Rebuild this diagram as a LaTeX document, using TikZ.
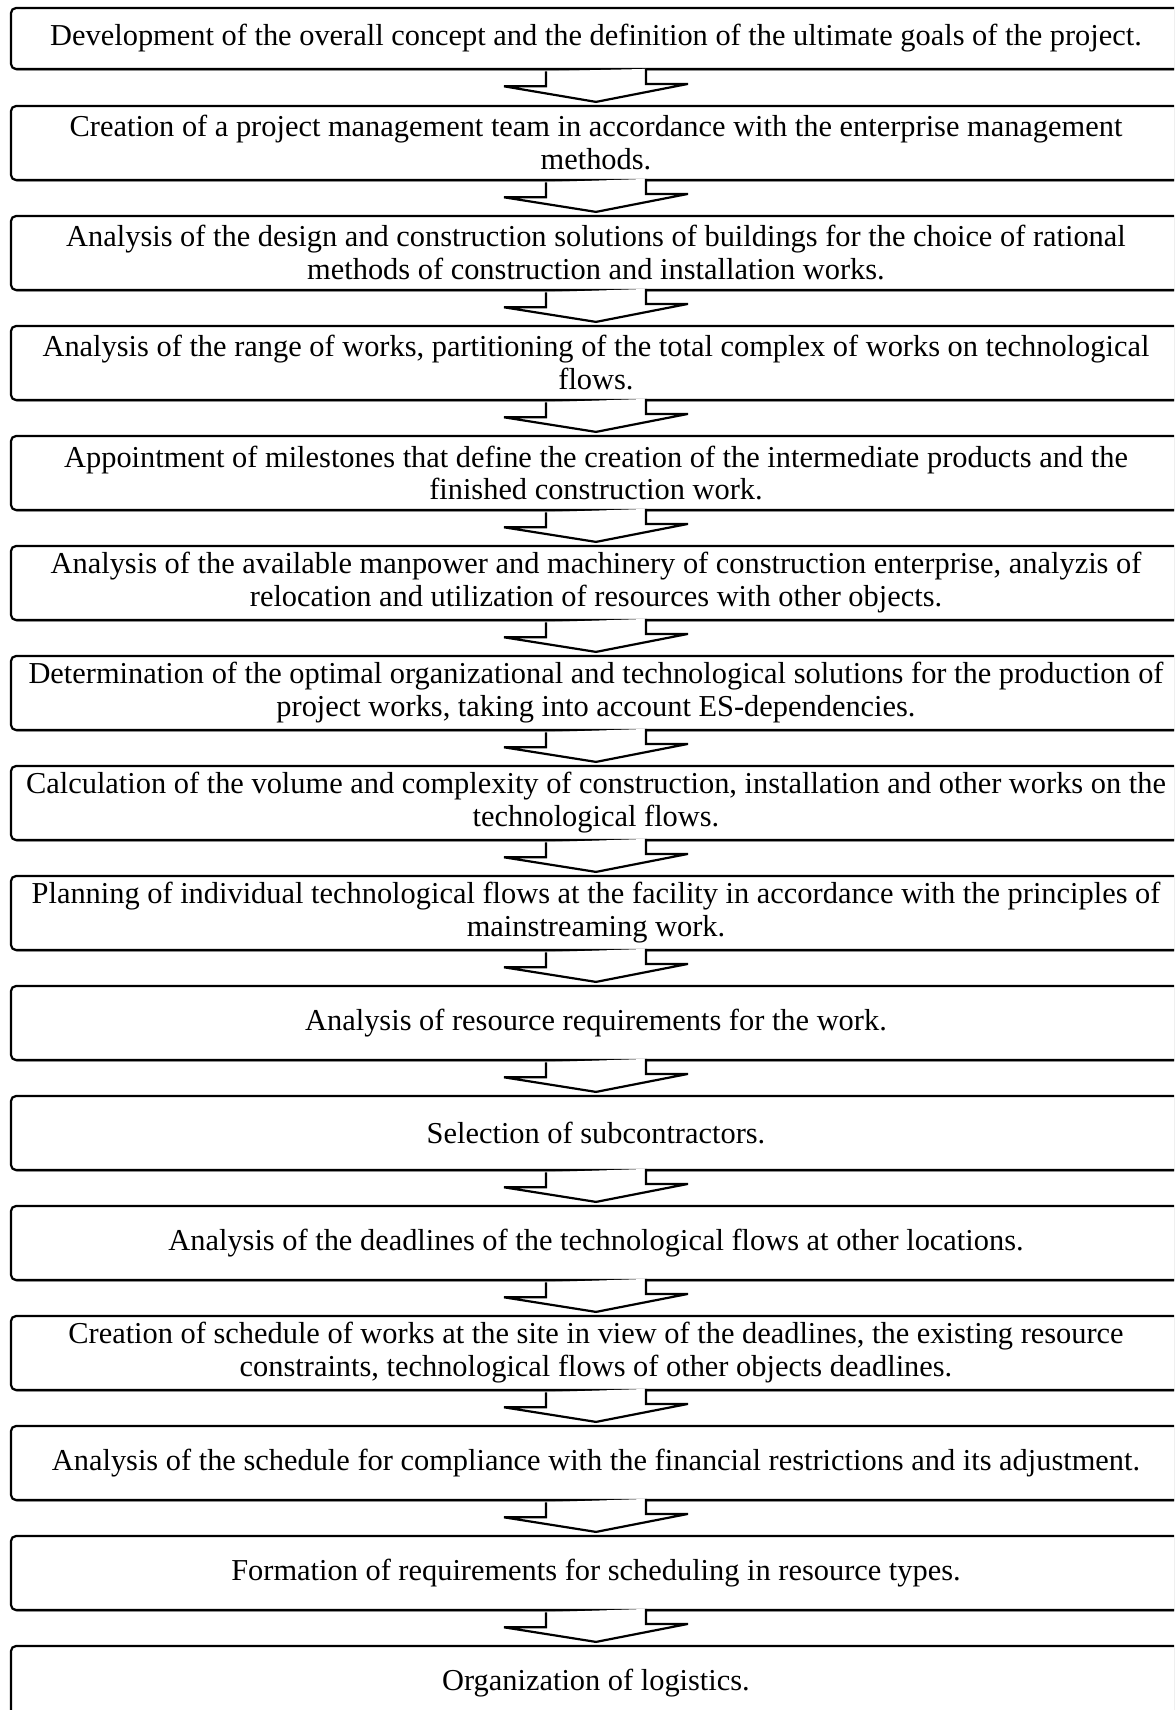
\documentclass[tikz,border=0pt]{standalone}
\usepackage{fontspec}
\setmainfont{Liberation Serif}
\usetikzlibrary{shadows}
\begin{document}
\begin{tikzpicture}[x=0.5pt,y=-0.5pt,
  box/.style={draw=black, line width=1.1pt, rounded corners=2.5pt, fill=white,
    drop shadow={shadow xshift=0.4pt, shadow yshift=-0.8pt, fill=black!55, opacity=1},
    minimum width=585pt, minimum height=37pt, inner sep=0pt, align=center,
    font=\fontsize{15.2}{16.5}\selectfont},
  firstbox/.style={box, minimum height=30.5pt},
  arr/.style={draw=black, line width=1.1pt, fill=white, line join=miter}]
\useasboundingbox (0,0) rectangle (1174,1710);
\fill[white] (0,0) rectangle (1174,1710);
\clip (0,0) rectangle (1174,1710);
\node[firstbox] (b1) at (596,38.5) {Development of the overall concept and the definition of the ultimate goals of the project.};
\node[box] (b2) at (596,143) {Creation of a project management team in accordance with the enterprise management\\methods.};
\node[box] (b3) at (596,253) {Analysis of the design and construction solutions of buildings for the choice of rational\\methods of construction and installation works.};
\node[box] (b4) at (596,363) {Analysis of the range of works, partitioning of the total complex of works on technological\\flows.};
\node[box] (b5) at (596,473) {Appointment of milestones that define the creation of the intermediate products and the\\finished construction work.};
\node[box] (b6) at (596,583) {Analysis of the available manpower and machinery of construction enterprise, analyzis of\\relocation and utilization of resources with other objects.};
\node[box] (b7) at (596,693) {Determination of the optimal organizational and technological solutions for the production of\\project works, taking into account ES-dependencies.};
\node[box] (b8) at (596,803) {Calculation of the volume and complexity of construction, installation and other works on the\\technological flows.};
\node[box] (b9) at (596,913) {Planning of individual technological flows at the facility in accordance with the principles of\\mainstreaming work.};
\node[box] (b10) at (596,1023) {Analysis of resource requirements for the work.};
\node[box] (b11) at (596,1133) {Selection of subcontractors.};
\node[box] (b12) at (596,1243) {Analysis of the deadlines of the technological flows at other locations.};
\node[box] (b13) at (596,1353) {Creation of schedule of works at the site in view of the deadlines, the existing resource\\constraints, technological flows of other objects deadlines.};
\node[box] (b14) at (596,1463) {Analysis of the schedule for compliance with the financial restrictions and its adjustment.};
\node[box] (b15) at (596,1573) {Formation of requirements for scheduling in resource types.};
\node[box] (b16) at (596,1683) {Organization of logistics.};
\foreach \a/\b in {b1/b2,b2/b3,b3/b4,b4/b5,b5/b6,b6/b7,b7/b8,b8/b9,b9/b10,b10/b11,b11/b12,b12/b13,b13/b14,b14/b15,b15/b16}{
  \draw[arr] ([xshift=-25pt,yshift=-0.6pt]\a.south) -- ++(0,15) -- ++(-42,0) -- ([yshift=1.5pt]\b.north)
    -- ++(92,-18) -- ++(-42,0) -- ++(0,-15);
}
\end{tikzpicture}
\end{document}
